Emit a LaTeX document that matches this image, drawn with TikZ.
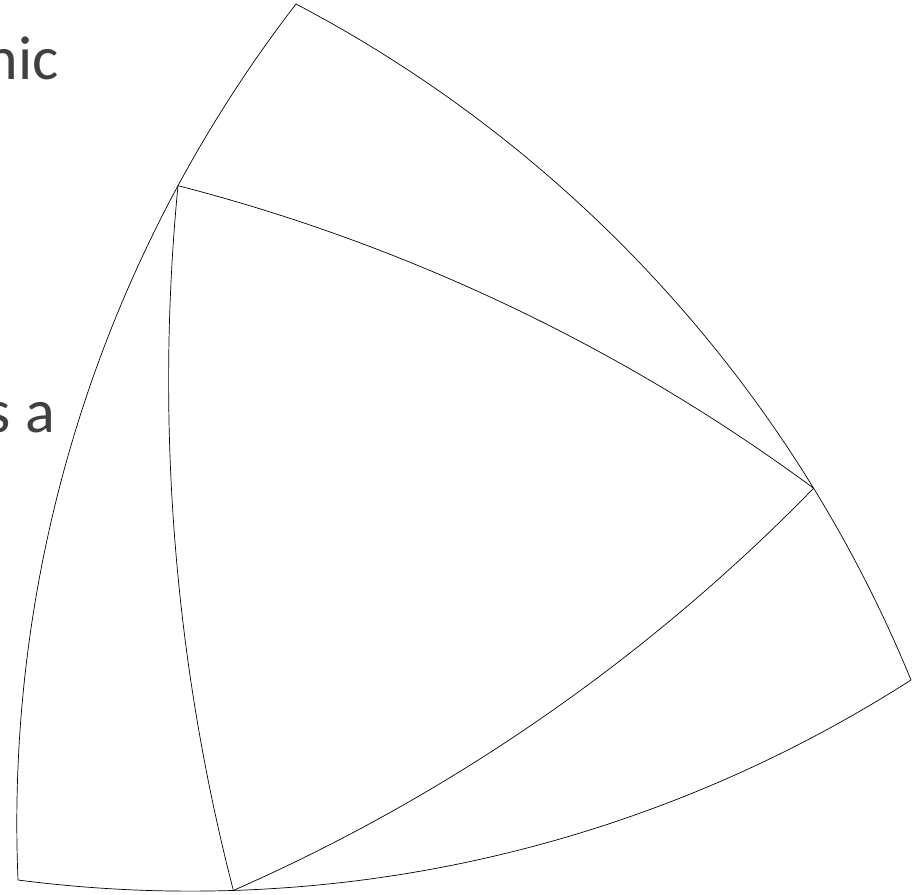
\documentclass[tikz,border=0pt]{standalone}
\usepackage{fontspec}
\setmainfont{Carlito}
\definecolor{slidegrey}{HTML}{404040}

\begin{document}
\begin{tikzpicture}[x=1pt,y=1pt,
  outerarc/.style={line width=0.7pt,looseness=0.88},
  innerarc/.style={line width=0.7pt,looseness=0.86},
  cliptext/.style={text=slidegrey,anchor=base east,inner sep=0pt,font=\fontsize{62}{70}\selectfont}]
\path[use as bounding box] (0,0) rectangle (923,-894);
\coordinate (A) at (296,-4);
\coordinate (B) at (911,-680);
\coordinate (C) at (18,-880);
% outer triangle
\draw[outerarc] (A) to[bend right=20] coordinate[pos=0.23] (P) (C);
\draw[outerarc] (C) to[bend right=20] coordinate[pos=0.23] (R) (B);
\draw[outerarc] (B) to[bend right=20] coordinate[pos=0.23] (Q) (A);
% inner triangle
\draw[innerarc] (P) to[bend left=11] (Q);
\draw[innerarc] (Q) to[bend left=11] (R);
\draw[innerarc] (R) to[bend left=10] (P);
\node[cliptext] (nic) at (59,-79) {nic};
\node[cliptext] (sa) at (55,-432) {s a};
\end{tikzpicture}
\end{document}
